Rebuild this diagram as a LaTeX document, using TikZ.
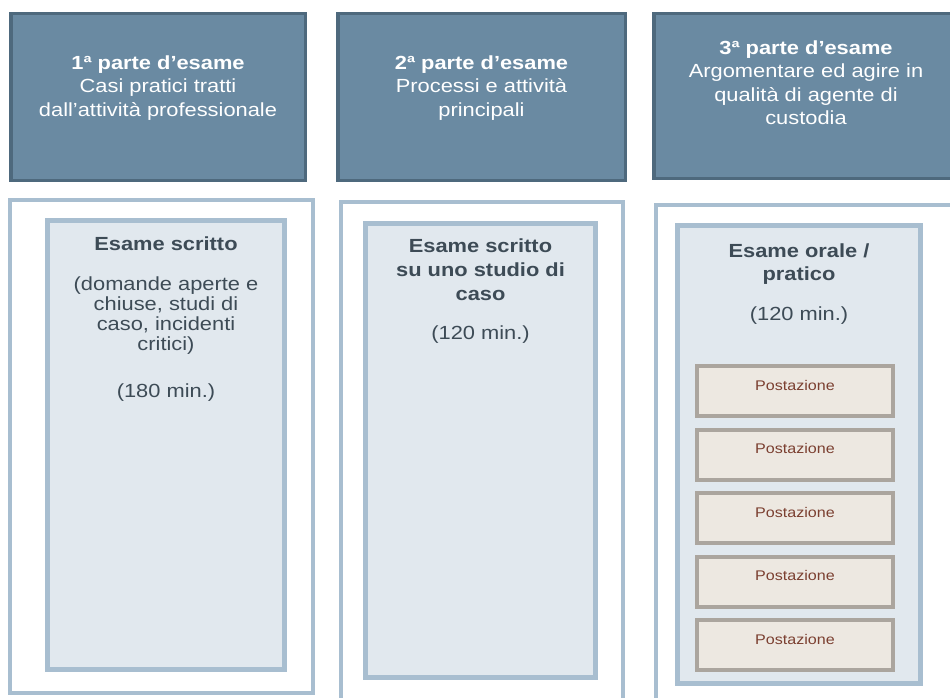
\documentclass[tikz,border=0pt]{standalone}
\usepackage{fontspec}
\setmainfont{Liberation Sans}[FakeStretch=1.15]
\usetikzlibrary{positioning}

\definecolor{headfill}{HTML}{6A8AA2}
\definecolor{headline}{HTML}{4E697D}
\definecolor{frameline}{HTML}{A8BED0}
\definecolor{innerfill}{HTML}{E1E8EE}
\definecolor{bodytext}{HTML}{3D4B56}
\definecolor{postfill}{HTML}{EDE8E1}
\definecolor{postline}{HTML}{ABA59E}
\definecolor{posttext}{HTML}{7B3F30}

\begin{document}
\begin{tikzpicture}[x=1pt, y=-1pt,
    head/.style={rectangle, draw=headline, line width=3.5pt, fill=headfill, minimum width=#1, minimum height=166.5pt, inner sep=0pt},
    frame/.style={rectangle, draw=frameline, line width=4pt, fill=white, minimum width=#1, inner sep=0pt},
    inner/.style={rectangle, draw=frameline, line width=5pt, fill=innerfill, minimum width=#1, inner sep=0pt},
    post/.style={rectangle, draw=postline, line width=4pt, fill=postfill, minimum width=196pt, minimum height=50pt,
        text=posttext, font=\fontsize{14}{15}\selectfont, text height=10pt, text depth=12pt, inner sep=0pt},
    headtxt/.style={align=center, inner sep=0pt, text=white, font=\fontsize{19}{23.5}\selectfont},
    bodytxt/.style={align=center, inner sep=0pt, text=bodytext, font=\fontsize{19}{20}\selectfont}]
    \useasboundingbox (0,0) rectangle (950,698);
    \clip (0,0) rectangle (950,698);

    % Header boxes
    \node[head=294.5pt] (head1) at (158,97) {};
    \node[head=287.5pt] (head2) at (481.5,97) {};
    \node[head=304.5pt, minimum height=164.5pt] (head3) at (806,96) {};

    \node[headtxt, below=43.5pt of head1.north] (part1) {\textbf{1ª parte d’esame}\\Casi pratici tratti\\dall’attività professionale};
    \node[headtxt, below=43.5pt of head2.north] (part2) {\textbf{2ª parte d’esame}\\Processi e attività\\principali};
    \node[headtxt, below=28.5pt of head3.north] (part3) {\textbf{3ª parte d’esame}\\Argomentare ed agire in\\qualità di agente di\\custodia};

    % Outer frames
    \node[frame=303pt, minimum height=493pt] (frame1) at (161.5,446.5) {};
    \node[frame=282pt, minimum height=511pt] (frame2) at (482,457.5) {};
    \node[frame=307pt, minimum height=508pt] (frame3) at (809.5,459) {};

    % Exam boxes
    \node[inner=237pt, minimum height=449pt] (exam1) at (166,445) {};
    \node[inner=230pt, minimum height=454pt] (exam2) at (480.5,450.5) {};
    \node[inner=243pt, minimum height=458pt] (exam3) at (799,454.5) {};

    \node[bodytxt, below=18.5pt of exam1.north] (desc1) {\textbf{Esame scritto}\\[20pt](domande aperte e\\chiuse, studi di\\caso, incidenti\\critici)\\[27pt](180 min.)};
    \node[bodytxt, below=17.5pt of exam2.north] (desc2) {\textbf{Esame scritto}\\[4pt]\textbf{su uno studio di}\\[4pt]\textbf{caso}\\[19pt](120 min.)};
    \node[bodytxt, below=20.5pt of exam3.north] (desc3) {\textbf{Esame orale /}\\[3pt]\textbf{pratico}\\[20pt](120 min.)};

    % Stations
    \node[post] (post1) at (795,391) {Postazione};
    \node[post] (post2) at (795,454.5) {Postazione};
    \node[post] (post3) at (795,518) {Postazione};
    \node[post] (post4) at (795,581.5) {Postazione};
    \node[post] (post5) at (795,645) {Postazione};
\end{tikzpicture}
\end{document}
